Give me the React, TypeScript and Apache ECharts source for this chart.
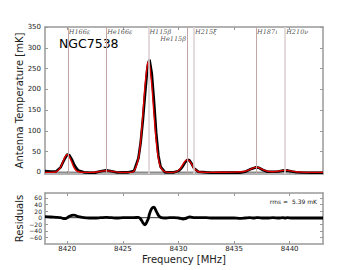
import React, { useEffect, useRef } from "react";
import * as echarts from "echarts";

const freq = [
  8418.0, 8418.5, 8419.0, 8419.4, 8419.6, 8419.8, 8420.0, 8420.2, 8420.4, 8420.6,
  8420.8, 8421.0, 8421.5, 8422.0, 8422.5, 8423.0, 8423.5, 8424.0, 8424.5, 8425.0,
  8425.5, 8426.0, 8426.4, 8426.6, 8426.8, 8427.0, 8427.2, 8427.3, 8427.4, 8427.6,
  8427.8, 8428.0, 8428.2, 8428.4, 8428.8, 8429.2, 8429.6, 8430.0, 8430.2, 8430.4,
  8430.6, 8430.8, 8431.0, 8431.2, 8431.4, 8431.8, 8432.5, 8433.0, 8434.0, 8435.0,
  8435.5, 8436.0, 8436.4, 8436.8, 8437.0, 8437.2, 8437.6, 8438.0, 8438.5, 8439.0,
  8439.4, 8439.6, 8439.8, 8440.2, 8440.6, 8441.0, 8442.0, 8443.0,
];

const observedTemp = [
  3, 2, 2.3, 12, 23, 34, 43, 41, 32, 20,
  10.7, 4.3, 0, -1, -0.7, 2.5, 5, 2.5, -0.5, 0,
  0, 3, 34, 71, 125, 189, 249, 264, 271, 239,
  172, 95, 40, 13, 0, 0, 0, 3.5, 8, 15,
  24, 30, 29, 20, 10, 1.5, 0, -1, -0.7, -0.5,
  -0.7, 1.5, 6.6, 10.2, 12, 11.2, 5.6, 1.5, 1.5, 2,
  4.7, 4, 4.7, 2, 0.3, -0.5, -1, -1,
];

const fitTemp = [
  0, 0, 1.3, 12, 25, 37, 43, 37, 25, 12,
  4.7, 1.3, 0, 0, 0.3, 2.5, 4, 2.5, 0.5, 0,
  0, 3, 33, 75, 140, 211, 259, 266, 259, 211,
  140, 75, 33, 12, 1, 0, 0, 4.5, 10, 19,
  27, 30, 27, 19, 10, 1.5, 0, 0, 0.3, 0.5,
  1.3, 2.5, 6.6, 11.2, 12, 11.2, 6.6, 2.5, 1.5, 3,
  4.7, 5, 4.7, 3, 1.3, 0.5, 0, 0,
];

const residual = [
  3, 2, 1, 0, -2, -3, 0, 4, 7, 8,
  6, 3, 0, -1, -1, 0, 1, 0, -1, 0,
  0, 0, 1, -4, -15, -22, -10, -2, 12, 28,
  32, 20, 7, 1, -1, 0, 0, -1, -2, -4,
  -3, 0, 2, 1, 0, 0, 0, -1, -1, -1,
  -2, -1, 0, -1, 0, 0, -1, -1, 0, -1,
  0, -1, 0, -1, -1, -1, -1, -1,
];

const lineFreqs = [8420.05, 8423.5, 8427.3, 8430.77, 8431.4, 8436.98, 8439.6];
const lineNames = ["H166ε", "He166ε", "H115β", "He115β", "H215ξ", "H187ι", "H210ν"];
const lineLabelY = [339, 339, 339, 320, 339, 339, 339];
const lineLabelSide = ["right", "right", "right", "left", "right", "right", "right"];
const lineIsLight = [false, false, true, false, true, false, true];

const freqTicks = [8420, 8425, 8430, 8435, 8440];
const tempTicks = [0, 50, 100, 150, 200, 250, 300, 350];
const residTicks = [-60, -40, -20, 0, 20, 40, 60];

const sourceName = "NGC7538";
const rmsText = "rms =  5.39 mK";

const FONT = "DejaVu Sans";
const SPINE = "#999999";
const LABEL_COLOR = "#222222";

export default function App() {
  const ref = useRef<HTMLDivElement>(null);

  useEffect(() => {
    if (!ref.current) return;
    const chart = echarts.init(ref.current, undefined, { renderer: "svg" });

    const pair = (ys: number[]) => freq.map((f, i) => [f, ys[i]]);

    const spine = { show: true, onZero: false, lineStyle: { color: SPINE, width: 1.5 } };
    const tickStyle = (vals: number[]) => ({
      show: true,
      inside: true,
      length: 3,
      customValues: vals,
      lineStyle: { color: SPINE, width: 1 },
    });
    const fmt = (v: number) => String(v).replace("-", "\u2212");
    const labelStyle = (vals: number[], show: boolean, margin: number, size: number) => ({
      show,
      customValues: vals,
      hideOverlap: false,
      showMinLabel: true,
      showMaxLabel: true,
      formatter: fmt,
      fontFamily: FONT,
      fontSize: size,
      color: LABEL_COLOR,
      margin,
    });

    const xBase = { type: "value", min: 8418, max: 8443, splitLine: { show: false } };
    const yTop = { type: "value", min: -4, max: 350, splitLine: { show: false } };
    const yBot = { type: "value", min: -80, max: 75, splitLine: { show: false } };

    const option: any = {
      animation: false,
      grid: [
        { left: 45, top: 27, width: 278, height: 147, outerBoundsMode: "none", containLabel: false },
        { left: 45, top: 193, width: 278, height: 51, outerBoundsMode: "none", containLabel: false },
      ],
      xAxis: [
        { ...xBase, gridIndex: 0, position: "bottom", axisLine: spine, axisTick: tickStyle(freqTicks), axisLabel: { show: false } },
        { ...xBase, gridIndex: 0, position: "top", axisLine: spine, axisTick: tickStyle(freqTicks), axisLabel: { show: false } },
        {
          ...xBase, gridIndex: 1, position: "bottom", axisLine: spine, axisTick: tickStyle(freqTicks), axisLabel: labelStyle(freqTicks, true, 1, 7),
          name: "Frequency [MHz]", nameLocation: "middle", nameGap: 10, nameMoveOverlap: false,
          nameTextStyle: { fontFamily: FONT, fontSize: 10, color: LABEL_COLOR, verticalAlign: "top" },
        },
        { ...xBase, gridIndex: 1, position: "top", axisLine: spine, axisTick: tickStyle(freqTicks), axisLabel: { show: false } },
      ],
      yAxis: [
        {
          ...yTop, gridIndex: 0, position: "left", axisLine: spine, axisTick: tickStyle(tempTicks), axisLabel: labelStyle(tempTicks, true, 4, 7),
          name: "Antenna Temperature [mK]", nameLocation: "middle", nameGap: 21, nameMoveOverlap: false,
          nameTextStyle: { fontFamily: FONT, fontSize: 10, color: LABEL_COLOR },
        },
        { ...yTop, gridIndex: 0, position: "right", axisLine: spine, axisTick: tickStyle(tempTicks), axisLabel: { show: false } },
        {
          ...yBot, gridIndex: 1, position: "left", axisLine: spine, axisTick: tickStyle(residTicks), axisLabel: labelStyle(residTicks, true, 3, 6),
          name: "Residuals", nameLocation: "middle", nameGap: 21, nameMoveOverlap: false,
          nameTextStyle: { fontFamily: FONT, fontSize: 10, color: LABEL_COLOR },
        },
        { ...yBot, gridIndex: 1, position: "right", axisLine: spine, axisTick: tickStyle(residTicks), axisLabel: { show: false } },
      ],
      series: [
        {
          type: "line",
          xAxisIndex: 0,
          yAxisIndex: 0,
          data: [[8418, 0], [8443, 0]],
          showSymbol: false,
          lineStyle: { color: "#8c8c8c", width: 1.5 },
          z: 1,
          silent: true,
          markLine: {
            silent: true,
            symbol: ["none", "none"],
            label: { show: false },
            data: lineFreqs.map((f, i) => ({
              xAxis: f,
              lineStyle: {
                type: "solid",
                color: lineIsLight[i] ? "#ddd3d3" : "#c4a6a6",
                width: lineIsLight[i] ? 1.6 : 1,
              },
            })),
          },
        },
        {
          type: "line",
          xAxisIndex: 0,
          yAxisIndex: 0,
          data: pair(observedTemp),
          showSymbol: false,
          lineStyle: { color: "#000000", width: 2.6 },
          z: 2,
        },
        {
          type: "line",
          xAxisIndex: 0,
          yAxisIndex: 0,
          data: pair(fitTemp),
          showSymbol: false,
          smooth: 0.3,
          lineStyle: { color: "#e00000", width: 1.4 },
          z: 3,
        },
        {
          type: "scatter",
          xAxisIndex: 0,
          yAxisIndex: 0,
          symbolSize: 0,
          silent: true,
          z: 4,
          data: lineFreqs.map((f, i) => ({
            value: [f, lineLabelY[i]],
            label: {
              show: true,
              position: lineLabelSide[i],
              distance: 1,
              formatter: lineNames[i],
              fontFamily: "DejaVu Serif",
              fontStyle: "italic",
              fontSize: 6.5,
              color: LABEL_COLOR,
            },
          })),
        },
        {
          type: "line",
          xAxisIndex: 2,
          yAxisIndex: 2,
          data: [[8418, 0], [8443, 0]],
          showSymbol: false,
          lineStyle: { color: "#000000", width: 0.8 },
          z: 1,
          silent: true,
        },
        {
          type: "line",
          xAxisIndex: 2,
          yAxisIndex: 2,
          data: pair(residual),
          showSymbol: false,
          smooth: 0.3,
          lineStyle: { color: "#000000", width: 2.8 },
          z: 2,
        },
      ],
      graphic: [
        {
          type: "text",
          left: 59,
          top: 37,
          style: { text: sourceName, fontFamily: FONT, fontSize: 12.5, fill: "#000000" },
        },
        {
          type: "text",
          right: 43,
          top: 198,
          style: { text: rmsText, fontFamily: FONT, fontSize: 6, fill: LABEL_COLOR },
        },
      ],
    };

    chart.setOption(option);
    return () => chart.dispose();
  }, []);

  return (
    <div
      ref={ref}
      style={{ position: "fixed", left: 0, top: 0, width: 360, height: 270, background: "#ffffff" }}
    />
  );
}
